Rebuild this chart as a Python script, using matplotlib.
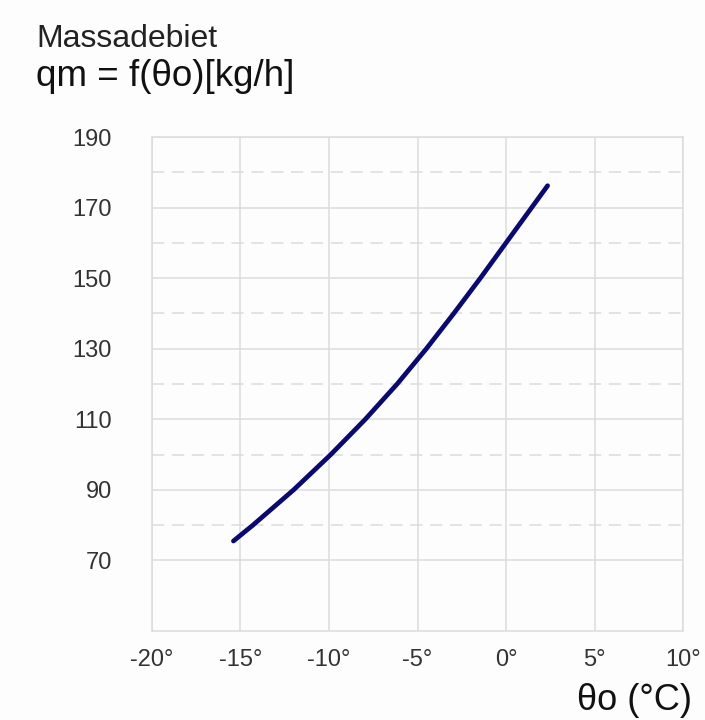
import numpy as np
import matplotlib.pyplot as plt

plt.rcParams['font.family'] = ['Liberation Sans', 'DejaVu Sans']

# outdoor temperature (°C) vs mass flow (kg/h)
theta_o = [-15.4, -14.3, -12.0, -9.9, -7.95, -6.15, -4.5, -2.95, -1.45, 0.0, 1.45, 2.35]
qm = [75.5, 80, 90, 100, 110, 120, 130, 140, 150, 160, 170, 176.2]

x_ticks = [-20, -15, -10, -5, 0, 5, 10]
y_ticks = [70, 90, 110, 130, 150, 170, 190]
y_minor = [80, 100, 120, 140, 160, 180]

bg = '#fdfdfd'
fig = plt.figure(figsize=(7.05, 7.2), dpi=100, facecolor=bg)
ax = fig.add_axes([0.2156, 0.1236, 0.7532, 0.6861], facecolor=bg)

ax.plot(theta_o, qm, color='#0a0a6e', lw=3.4, solid_capstyle='round',
        solid_joinstyle='round', zorder=3)

ax.set_xlim(-20, 10)
ax.set_ylim(50, 190)
ax.set_xticks(x_ticks)
ax.set_xticklabels([f'{v}°' for v in x_ticks])
ax.set_yticks(y_ticks)
ax.set_yticks(y_minor, minor=True)

ax.grid(True, which='major', color='#dcdcdc', lw=1.1)
ax.grid(True, which='minor', axis='y', color='#dcdcdc', lw=1.1, ls=(0, (8, 5)))
ax.set_axisbelow(True)

for s in ax.spines.values():
    s.set_color('#dcdcdc')
    s.set_linewidth(1.1)

ax.tick_params(which='both', length=0)
ax.tick_params(axis='y', labelsize=17, pad=29, colors='#333333')
ax.tick_params(axis='x', labelsize=17, pad=13, colors='#333333')

fig.text(36 / 705, 1 - 47 / 720, 'Massadebiet', fontsize=23, color='#222222',
         ha='left', va='baseline')
fig.text(36 / 705, 1 - 86 / 720, 'qm = f(θo)[kg/h]', fontsize=26.5, color='#111111',
         ha='left', va='baseline')
fig.text(692 / 705, 1 - 710 / 720, 'θo (°C)', fontsize=26, color='#111111',
         ha='right', va='baseline')

fig.savefig('out.png', dpi=100, facecolor=bg)
